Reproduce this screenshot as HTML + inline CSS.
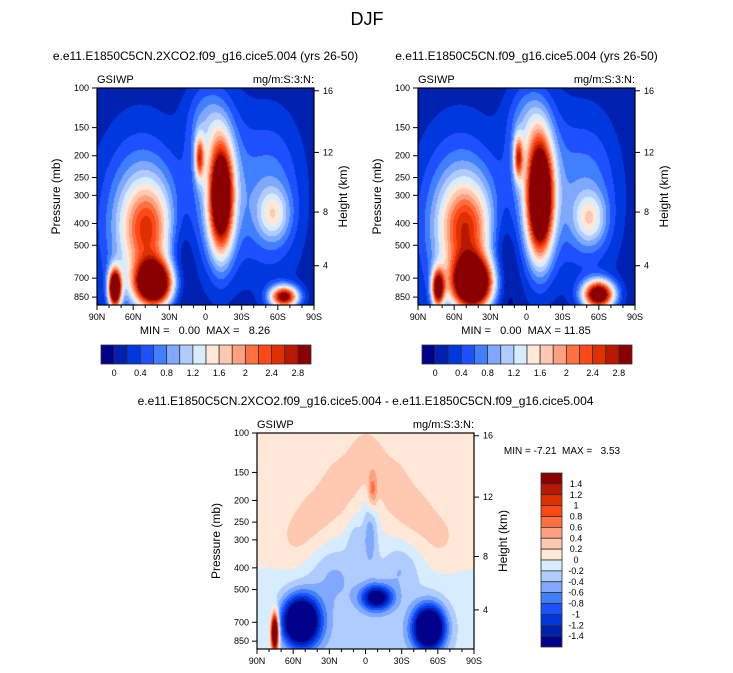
<!DOCTYPE html>
<html><head><meta charset="utf-8">
<style>
body{margin:0;background:#fff;width:733px;height:673px;overflow:hidden;position:relative;font-family:"Liberation Sans",sans-serif;color:#000}
canvas{position:absolute}
svg{position:absolute;left:0;top:0}
svg text{white-space:pre}
</style></head><body>
<canvas id="c1" width="217" height="217" style="left:97px;top:88px"></canvas>
<canvas id="c2" width="217" height="217" style="left:418px;top:88px"></canvas>
<canvas id="c3" width="217" height="216" style="left:257px;top:433px"></canvas>
<svg id="s" width="733" height="673"></svg>
<script>
// ---- data ----
const latTicks=["90N","60N","30N","0","30S","60S","90S"];
const presTicks=[100,150,200,250,300,400,500,700,850];
const kmTicks=[16,12,8,4];
const levelsAbs=[0,0.2,0.4,0.6,0.8,1,1.2,1.4,1.6,1.8,2,2.2,2.4,2.6,2.8];
const cbAbsLabels=["0","0.4","0.8","1.2","1.6","2","2.4","2.8"];
const levelsDiff=[-1.4,-1.2,-1,-0.8,-0.6,-0.4,-0.2,0,0.2,0.4,0.6,0.8,1,1.2,1.4];
const cbDiffLabels=["1.4","1.2","1","0.8","0.6","0.4","0.2","0","-0.2","-0.4","-0.6","-0.8","-1","-1.2","-1.4"];
const colors=["#00008a","#0020b0","#0038e0","#1f50ff","#4080ff","#80a8ff","#b0ccff","#d8ecff","#ffe8d8","#ffc8b0","#ffa080","#ff7040","#ff4818","#e03000","#b81800","#8a0000"];
// blob components: [x frac (0=90N,1=90S), y frac (0=top,1=bottom), amplitude, sx, sy]
const field1Base=0.05;
const field1=[[0.57,0.5,3.5,0.038,0.17],[0.56,0.45,0.9,0.09,0.26],[0.5,0.15,0.5,0.06,0.12],[0.47,0.32,1.8,0.015,0.07],
 [0.23,0.65,1.5,0.08,0.15],[0.2,0.62,1.0,0.13,0.28],[0.26,0.9,4,0.06,0.07],[0.08,0.92,4,0.02,0.06],
 [0.81,0.58,0.9,0.05,0.08],[0.8,0.5,0.7,0.1,0.25],[0.86,0.96,3,0.045,0.035],[0.38,0.8,-0.5,0.05,0.2]];
const field2Base=0.05;
const field2=[[0.56,0.5,4,0.04,0.18],[0.55,0.45,0.9,0.09,0.26],[0.5,0.15,0.5,0.06,0.12],[0.46,0.32,1.9,0.015,0.07],
 [0.22,0.65,1.6,0.08,0.15],[0.19,0.62,1.0,0.13,0.28],[0.25,0.9,4.2,0.065,0.08],[0.09,0.92,3,0.02,0.06],
 [0.79,0.6,0.95,0.05,0.08],[0.78,0.5,0.7,0.1,0.25],[0.83,0.95,3.5,0.05,0.045],[0.39,0.8,-0.5,0.05,0.2]];
const field3Base=0.1;
const field3=[[0.5,0.95,-0.4,0.4,0.3],[0.52,0.45,-0.5,0.025,0.12],[0.45,0.5,-0.3,0.025,0.08],[0.35,0.65,-0.3,0.08,0.1],[0.66,0.62,-0.3,0.06,0.08],
 [0.2,0.87,-2.5,0.06,0.08],[0.79,0.9,-2.5,0.05,0.07],[0.55,0.76,-1.6,0.05,0.04],[0.08,0.92,3,0.012,0.06],
 [0.53,0.27,0.6,0.015,0.06],[0.18,0.5,0.2,0.07,0.1],[0.28,0.38,0.2,0.07,0.1],[0.38,0.25,0.2,0.06,0.1],[0.5,0.12,0.2,0.06,0.1],
 [0.62,0.25,0.2,0.06,0.1],[0.72,0.38,0.2,0.07,0.1],[0.84,0.5,0.2,0.07,0.1]];
// ---- drawing ----
function evalField(comps,base,x,y){let v=base;for(const c of comps){const dx=(x-c[0])/c[3],dy=(y-c[1])/c[4];v+=c[2]*Math.exp(-0.5*(dx*dx+dy*dy));}return v;}
function level(v,lv){let i=0;while(i<lv.length&&v>=lv[i])i++;return i;}
function paint(id,comps,base,lv){const cv=document.getElementById(id),ctx=cv.getContext('2d');const W=cv.width,H=cv.height;
 const img=ctx.createImageData(W,H);const rgb=colors.map(c=>[1,3,5].map(k=>parseInt(c.substr(k,2),16)));
 for(let j=0;j<H;j++)for(let i=0;i<W;i++){const v=evalField(comps,base,i/W,j/H);const k=rgb[level(v,lv)];const o=(j*W+i)*4;img.data[o]=k[0];img.data[o+1]=k[1];img.data[o+2]=k[2];img.data[o+3]=255;}
 ctx.putImageData(img,0,0);}
paint('c1',field1,field1Base,levelsAbs);paint('c2',field2,field2Base,levelsAbs);paint('c3',field3,field3Base,levelsDiff);
const S=document.getElementById('s');const NS='http://www.w3.org/2000/svg';
function el(t,a,txt){const e=document.createElementNS(NS,t);for(const k in a)e.setAttribute(k,a[k]);if(txt!==undefined)e.textContent=txt;S.appendChild(e);return e;}
function txt(x,y,s,size,anchor,name,rot){const e=el('text',{x:x,y:y,'font-size':size,'text-anchor':anchor||'middle','font-family':'Liberation Sans, sans-serif'},s);
 if(rot)e.setAttribute('transform','rotate(-90 '+x+' '+y+')');
 
 return e;}
function kmToP(z){return z<=11?1013.25*Math.pow(1-2.2558e-5*z*1000,5.256):226.3*Math.exp(-(z-11)/6.3416);}
txt(367,25,'DJF',18,'middle','main-title');
function panel(x0,y0,w,h,title,tag){
 const py=p=>y0+Math.log10(p/100)*225*h/217;
 const r=el('rect',{x:x0,y:y0,width:w,height:h,fill:'none',stroke:'#000','stroke-width':1.2});
 
 
 presTicks.forEach(p=>{const y=py(p);el('line',{x1:x0-5,x2:x0,y1:y,y2:y,stroke:'#000'});txt(x0-8,y+3,String(p),9,'end',tag+'-pressure-tick');});
 kmTicks.forEach(z=>{const y=py(kmToP(z));el('line',{x1:x0+w,x2:x0+w+5,y1:y,y2:y,stroke:'#000'});txt(x0+w+9,y+3,String(z),9,'start',tag+'-height-tick');});
 latTicks.forEach((l,i)=>{const x=x0+i*w/6;el('line',{x1:x,x2:x,y1:y0+h,y2:y0+h+5,stroke:'#000'});txt(x,y0+h+15,l,9,'middle',tag+'-lat-tick');
   for(let m=1;m<3&&i<6;m++){const xm=x+m*w/18;el('line',{x1:xm,x2:xm,y1:y0+h,y2:y0+h+3,stroke:'#000'});}});
 txt(x0,y0-5,'GSIWP',11,'start',tag+'-variable-label');
 txt(x0+w,y0-5,'mg/m:S:3:N:',11,'end',tag+'-units-label');
 txt(x0-37,y0+h/2,'Pressure (mb)',12,'middle',tag+'-y-axis-title',true);
 txt(x0+w+33,y0+h/2,'Height (km)',12,'middle',tag+'-y2-axis-title',true);
 txt(x0+w/2,y0-28,title,12,'middle',tag+'-title');}
panel(97,88,217,217,'e.e11.E1850C5CN.2XCO2.f09_g16.cice5.004 (yrs 26-50)','p1');
panel(418,88,217,217,'e.e11.E1850C5CN.f09_g16.cice5.004 (yrs 26-50)','p2');
panel(257,433,217,216,'e.e11.E1850C5CN.2XCO2.f09_g16.cice5.004 - e.e11.E1850C5CN.f09_g16.cice5.004','p3');
txt(205,334,'MIN =   0.00  MAX =   8.26',11,'middle','p1-minmax');
txt(526,334,'MIN =   0.00  MAX = 11.85',11,'middle','p2-minmax');
txt(562,454,'MIN = -7.21  MAX =   3.53',10,'middle','p3-minmax');
function hbar(x0,y0,w,h,tag){const bw=w/16;colors.forEach((c,i)=>{const r=el('rect',{x:x0+i*bw,y:y0,width:bw,height:h,fill:c,stroke:'#333','stroke-width':0.8});
 
 });
 cbAbsLabels.forEach((l,i)=>txt(x0+(1+2*i)*bw,y0+h+12,l,9,'middle',tag+'-label'));}
hbar(101,345,210,19,'cb1');hbar(422,345,210,19,'cb2');
(function(){const x0=541,y0=473,w=21,h=174,bh=h/16;colors.slice().reverse().forEach((c,i)=>{const r=el('rect',{x:x0,y:y0+i*bh,width:w,height:bh,fill:c,stroke:'#333','stroke-width':0.8});
 
 });
 cbDiffLabels.forEach((l,i)=>txt(x0+w+14,y0+(i+1)*bh+3,l,9,'middle','cb3-label'));})();
</script>
</body></html>
